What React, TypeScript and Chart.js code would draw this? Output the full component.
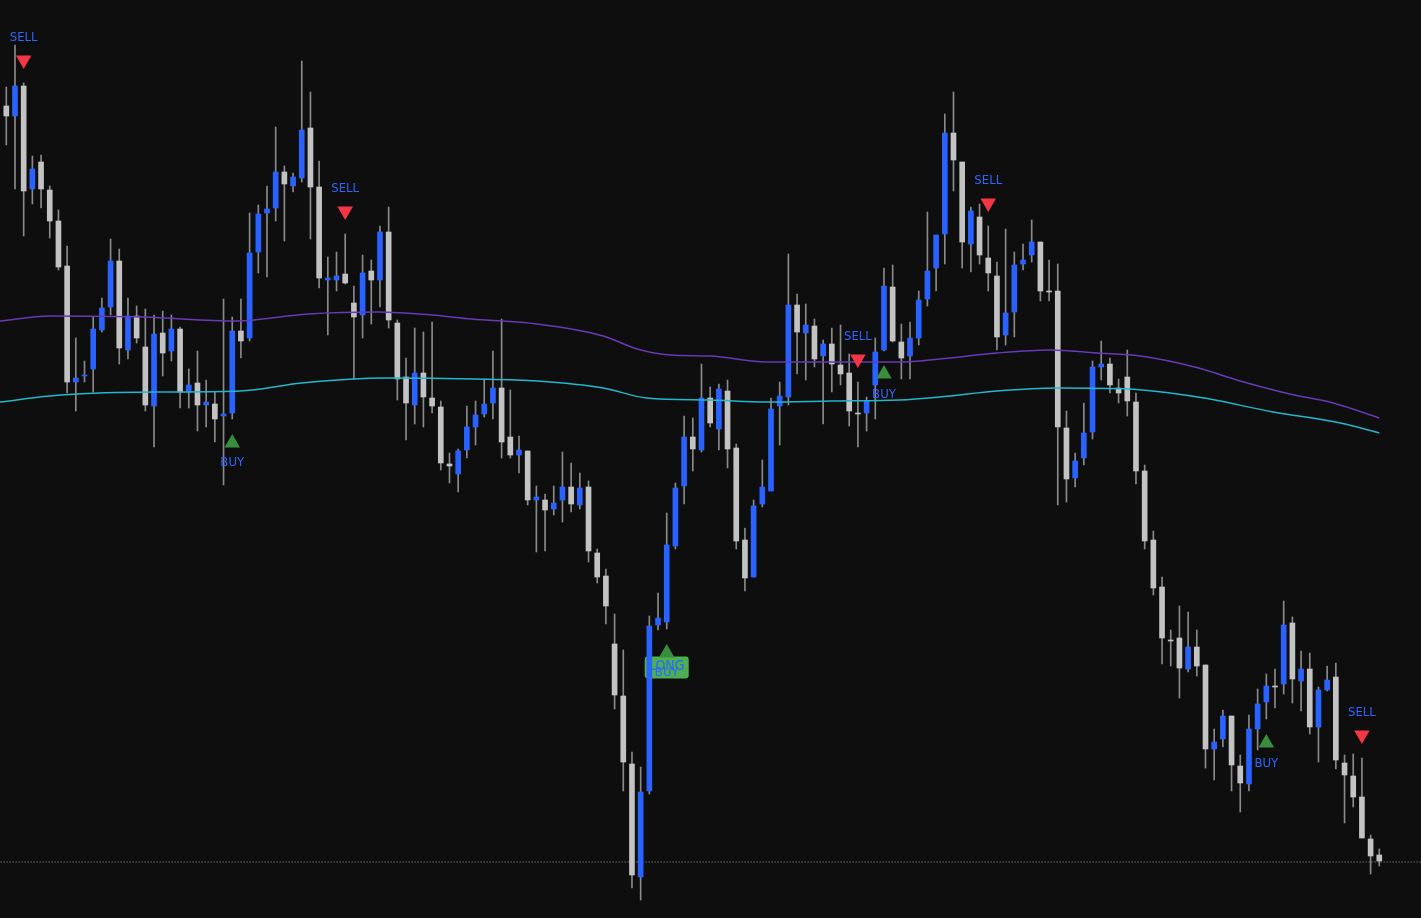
import React, { useEffect, useRef } from 'react';
import { Chart, registerables } from 'chart.js';

Chart.register(...registerables);

// ---- Candles (price units) ----
const opens = [
  81.2, 80.2, 83.2, 72.9, 75.6, 72.8, 69.7, 65.2, 53.6, 54.2,
  54.9, 58.8, 61.1, 65.7, 56.8, 60.2, 57.1, 51.2, 58.5, 56.7,
  58.9, 52.6, 53.5, 51.3, 51.4, 50.2, 50.5, 58.7, 58.0, 66.6,
  70.5, 71.0, 74.6, 73.2, 74.0, 79.0, 73.1, 63.8, 63.8, 64.4,
  61.5, 60.3, 64.7, 63.8, 68.6, 59.5, 54.1, 51.3, 54.5, 52.0,
  51.1, 45.4, 44.4, 46.8, 49.1, 50.4, 51.5, 53.0, 48.1, 46.3,
  46.7, 41.8, 41.8, 40.9, 41.8, 43.1, 41.3, 43.1, 36.5, 34.2,
  27.4, 22.2, 15.4, 4.1, 12.7, 29.3, 29.6, 37.2, 43.2, 48.1,
  46.8, 52.0, 48.9, 52.7, 47.0, 37.8, 34.1, 41.4, 42.7, 51.2,
  52.1, 61.3, 58.5, 59.2, 56.2, 57.4, 55.3, 54.5, 50.5, 50.5,
  53.3, 56.8, 63.1, 57.6, 56.2, 58.0, 61.9, 65.0, 68.4, 78.5,
  75.6, 67.4, 70.1, 66.0, 64.2, 58.3, 60.6, 65.4, 66.3, 67.6,
  62.7, 62.7, 49.0, 44.0, 46.0, 48.6, 55.1, 55.4, 53.0, 54.1,
  51.6, 44.7, 37.8, 33.1, 27.8, 28.0, 24.9, 27.1, 25.3, 16.9,
  17.9, 20.2, 15.2, 13.4, 18.9, 21.6, 23.2, 23.4, 29.5, 23.7,
  24.9, 19.1, 22.8, 24.1, 15.5, 14.2, 12.1, 7.9, 6.3,
];

const highs = [
  83.1, 87.3, 83.5, 76.2, 76.3, 73.2, 70.8, 67.2, 58.0, 55.7,
  60.1, 62.0, 67.9, 66.9, 62.0, 61.2, 60.9, 60.3, 60.7, 60.3,
  59.1, 54.9, 56.7, 53.8, 52.6, 61.9, 60.1, 61.9, 70.5, 71.3,
  73.2, 79.1, 75.2, 74.5, 85.7, 82.6, 75.7, 66.1, 66.6, 68.4,
  63.2, 66.3, 65.8, 69.2, 71.1, 59.8, 56.0, 59.0, 58.6, 59.6,
  51.7, 46.5, 46.9, 51.2, 51.7, 53.9, 56.7, 59.9, 52.8, 48.2,
  46.7, 43.2, 42.4, 43.2, 46.6, 45.5, 44.5, 43.7, 36.9, 34.9,
  30.4, 26.8, 16.6, 15.1, 30.2, 32.5, 40.5, 43.5, 50.2, 50.0,
  55.4, 53.1, 53.4, 53.8, 47.4, 39.0, 41.8, 45.8, 52.0, 53.6,
  66.4, 62.4, 61.4, 59.9, 57.8, 59.0, 59.3, 56.4, 53.6, 52.1,
  58.0, 65.0, 65.3, 59.4, 59.6, 62.7, 70.6, 68.3, 80.4, 82.6,
  75.6, 71.1, 71.4, 69.2, 65.6, 68.9, 66.6, 67.4, 69.8, 67.6,
  65.8, 65.4, 50.7, 46.5, 51.5, 55.7, 57.7, 56.0, 53.9, 56.8,
  52.5, 45.3, 38.7, 34.1, 28.8, 31.2, 30.6, 28.8, 25.3, 18.9,
  20.8, 20.2, 16.3, 20.3, 22.9, 24.4, 24.9, 31.7, 30.1, 26.7,
  26.5, 23.1, 25.2, 25.5, 16.3, 16.4, 16.0, 8.3, 6.9,
];

const lows = [
  77.3, 72.9, 68.2, 71.4, 71.0, 68.0, 64.8, 52.5, 50.7, 53.6,
  52.6, 58.6, 60.3, 55.4, 55.9, 57.5, 50.7, 47.1, 54.2, 55.7,
  51.0, 51.0, 48.7, 49.1, 47.6, 43.3, 49.9, 56.0, 57.7, 64.5,
  64.1, 69.7, 67.7, 72.6, 73.6, 67.9, 63.0, 58.3, 62.7, 63.4,
  53.9, 58.0, 59.4, 61.1, 59.0, 51.8, 47.8, 49.4, 49.1, 50.5,
  44.8, 43.5, 42.6, 46.0, 47.3, 50.1, 49.9, 46.0, 46.0, 44.5,
  41.3, 36.6, 36.7, 40.3, 39.6, 40.6, 40.9, 35.6, 33.5, 29.4,
  20.9, 12.7, 3.0, 1.8, 12.4, 28.8, 28.9, 36.9, 41.4, 44.7,
  46.6, 49.1, 46.8, 45.0, 36.9, 32.7, 34.1, 41.1, 42.7, 47.3,
  51.3, 54.4, 53.8, 55.1, 49.4, 52.6, 53.3, 49.2, 47.1, 48.7,
  49.9, 56.7, 57.6, 53.9, 53.9, 57.3, 61.2, 62.7, 65.4, 72.7,
  65.0, 64.6, 65.4, 62.7, 56.8, 57.3, 58.1, 64.8, 65.6, 61.7,
  61.7, 41.3, 41.6, 43.1, 45.3, 47.9, 53.8, 52.5, 51.5, 50.2,
  43.4, 36.9, 32.3, 25.4, 25.2, 22.0, 24.6, 24.2, 15.0, 13.8,
  17.1, 12.7, 10.6, 12.7, 16.8, 19.9, 21.0, 22.4, 21.5, 20.7,
  18.4, 15.6, 22.7, 14.9, 9.5, 11.1, 8.0, 4.4, 5.2,
];

const closes = [
  80.2, 83.2, 72.7, 74.9, 72.9, 69.7, 65.1, 53.6, 54.0, 54.3,
  58.9, 61.0, 65.7, 57.0, 60.2, 58.0, 51.3, 58.4, 56.5, 58.9,
  52.6, 53.3, 51.3, 51.6, 49.9, 50.4, 58.7, 57.7, 66.5, 70.4,
  70.9, 74.6, 73.4, 74.1, 78.8, 73.1, 64.0, 64.0, 64.2, 63.5,
  60.1, 64.5, 63.8, 68.6, 59.8, 53.9, 51.5, 54.5, 52.1, 51.2,
  45.5, 45.2, 46.7, 49.1, 50.3, 51.4, 53.0, 47.6, 46.3, 46.8,
  41.8, 42.1, 40.8, 41.5, 43.1, 41.4, 43.0, 36.7, 34.1, 31.2,
  22.3, 15.6, 4.3, 12.6, 29.2, 30.0, 37.3, 43.0, 48.1, 46.9,
  52.0, 49.5, 52.9, 46.9, 37.7, 34.0, 41.2, 43.1, 50.9, 52.2,
  61.3, 58.6, 59.3, 55.9, 57.4, 55.4, 54.4, 50.7, 50.4, 51.7,
  56.6, 63.2, 57.7, 56.0, 58.0, 61.8, 64.7, 68.3, 78.5, 75.8,
  67.6, 70.7, 66.3, 64.5, 58.1, 60.5, 65.3, 65.8, 67.6, 62.7,
  62.6, 49.1, 43.9, 45.7, 48.5, 55.1, 55.4, 53.3, 52.5, 51.7,
  44.7, 37.7, 33.0, 28.0, 27.7, 25.0, 27.1, 25.2, 16.9, 17.6,
  20.2, 15.3, 13.5, 18.9, 21.4, 23.2, 23.1, 29.3, 23.9, 24.9,
  19.1, 22.8, 23.8, 15.8, 14.3, 12.1, 8.0, 6.2, 5.7,
];

// ---- Moving averages (sampled along the bar index) ----
const slowMaIdx = [-0.73, 5.0, 15.7, 26.5, 34.7, 42.8, 49.0, 53.5, 61.1, 68.7, 72.6, 76.4, 81.0, 87.5, 95.1, 102.8, 107.4, 114.0, 120.1, 125.5, 130.5, 137.0, 142.0, 147.7, 152.7, 158.0];
const slowMaVal = [59.7, 60.2, 60.1, 59.7, 60.4, 60.6, 60.3, 59.9, 59.4, 58.2, 56.9, 56.3, 56.2, 55.6, 55.6, 55.6, 55.9, 56.5, 56.8, 56.5, 56.2, 55.05, 53.7, 52.4, 51.5, 50.0];

const fastMaIdx = [-0.73, 5.0, 10.8, 18.5, 26.9, 34.0, 43.6, 53.9, 61.1, 68.7, 73.7, 81.0, 87.5, 95.1, 102.8, 107.4, 114.0, 120.9, 129.3, 133.9, 138.2, 145.8, 153.5, 158.0];
const fastMaVal = [51.6, 52.2, 52.5, 52.6, 52.7, 53.5, 54.0, 53.9, 53.7, 53.0, 52.0, 51.8, 51.6, 51.7, 51.8, 52.1, 52.7, 53.0, 52.9, 52.5, 51.94, 50.6, 49.5, 48.5];

// ---- Signals ----
const sellIdx = [2, 39, 98, 113, 156];
const sellMark = [85.8, 70.7, 55.9, 71.5, 18.3];
const sellLabel = [88.0, 72.95, 58.1, 73.7, 20.5];

const buyIdx = [26, 76, 101, 145];
const buyMark = [47.5, 26.5, 54.4, 17.5];
const buyLabel = [45.5, 24.5, 52.35, 15.45];

const longIdx = 76;
const longLevel = 25.05;

const lastPrice = 5.6;

// ---- Styles ----
const BG = '#0e0e0e';
const UP = '#2962ff';
const DOWN = '#c3c3c3';
const WICK = '#8a8a8a';
const TEXT = '#2f66ff';
const FONT = '13px "Liberation Sans Narrow", "DejaVu Sans Condensed", "Liberation Sans", sans-serif';

const labelPlugin = {
  id: 'signalLabels',
  beforeDatasetsDraw(chart: any) {
    const { ctx, scales } = chart;
    const cx = scales.x.getPixelForValue(longIdx);
    const cy = scales.y.getPixelForValue(longLevel);
    const w = 44;
    const h = 22;
    ctx.save();
    ctx.fillStyle = '#4caf50';
    ctx.beginPath();
    (ctx as any).roundRect(cx - w / 2, cy - h / 2, w, h, 3);
    ctx.fill();
    ctx.restore();
  },
  afterDatasetsDraw(chart: any) {
    const { ctx, scales } = chart;
    ctx.save();
    ctx.font = FONT;
    ctx.fillStyle = TEXT;
    ctx.textAlign = 'center';
    ctx.textBaseline = 'middle';
    sellIdx.forEach((i, k) => {
      ctx.fillText('SELL', scales.x.getPixelForValue(i), scales.y.getPixelForValue(sellLabel[k]));
    });
    buyIdx.forEach((i, k) => {
      ctx.fillText('BUY', scales.x.getPixelForValue(i), scales.y.getPixelForValue(buyLabel[k]));
    });
    ctx.font = '14px "Liberation Sans Narrow", "DejaVu Sans Condensed", "Liberation Sans", sans-serif';
    ctx.fillText('LONG', scales.x.getPixelForValue(longIdx), scales.y.getPixelForValue(longLevel + 0.15));
    ctx.restore();
  },
};

export default function App() {
  const ref = useRef<HTMLCanvasElement | null>(null);

  useEffect(() => {
    if (!ref.current) return;
    const idx = opens.map((_, i) => i);
    const chart = new Chart(ref.current, {
      type: 'bar',
      data: {
        datasets: [
          {
            type: 'line',
            label: 'slow',
            data: slowMaIdx.map((x, k) => ({ x, y: slowMaVal[k] })),
            borderColor: '#673ab7',
            borderWidth: 1.5,
            pointRadius: 0,
            cubicInterpolationMode: 'monotone',
            order: 1,
          } as any,
          {
            type: 'line',
            label: 'fast',
            data: fastMaIdx.map((x, k) => ({ x, y: fastMaVal[k] })),
            borderColor: '#22b7cc',
            borderWidth: 1.5,
            pointRadius: 0,
            cubicInterpolationMode: 'monotone',
            order: 1,
          } as any,
          {
            type: 'line',
            label: 'last',
            data: [{ x: -1, y: lastPrice }, { x: 170, y: lastPrice }],
            borderColor: '#a0a0a0',
            borderWidth: 1,
            borderDash: [1, 2],
            pointRadius: 0,
            order: 6,
          } as any,
          {
            type: 'bar',
            label: 'wicks',
            data: idx.map((i) => ({ x: i, y: [lows[i], highs[i]] })),
            backgroundColor: WICK,
            barThickness: 1,
            grouped: false,
            order: 4,
          } as any,
          {
            type: 'bar',
            label: 'bodies',
            data: idx.map((i) => ({ x: i, y: [opens[i], closes[i]] })),
            backgroundColor: idx.map((i) => (closes[i] > opens[i] ? UP : DOWN)),
            barThickness: 5,
            grouped: false,
            order: 3,
          } as any,
          {
            type: 'scatter',
            label: 'sell',
            data: sellIdx.map((x, k) => ({ x, y: sellMark[k] })),
            pointStyle: 'triangle',
            rotation: 180,
            pointRadius: 9,
            pointHoverRadius: 9,
            backgroundColor: '#f23645',
            borderWidth: 0,
            order: 0,
          } as any,
          {
            type: 'scatter',
            label: 'buy',
            data: buyIdx.map((x, k) => ({ x, y: buyMark[k] })),
            pointStyle: 'triangle',
            pointRadius: 9,
            pointHoverRadius: 9,
            backgroundColor: '#388e3c',
            borderWidth: 0,
            order: 0,
          } as any,
        ],
      },
      options: {
        responsive: false,
        devicePixelRatio: 1,
        animation: false,
        layout: { padding: 0, autoPadding: false },
        plugins: {
          legend: { display: false },
          tooltip: { enabled: false },
        },
        events: [],
        scales: {
          x: {
            type: 'linear',
            min: -0.725,
            max: 162.8,
            offset: false,
            display: false,
          },
          y: {
            type: 'linear',
            min: 0,
            max: 91.8,
            display: false,
          },
        },
      } as any,
      plugins: [labelPlugin],
    });
    return () => chart.destroy();
  }, []);

  return (
    <div
      style={{
        position: 'absolute',
        left: 0,
        top: 0,
        width: 1421,
        height: 918,
        background: BG,
        overflow: 'hidden',
      }}
    >
      <canvas ref={ref} width={1421} height={918} style={{ display: 'block' }} />
    </div>
  );
}
